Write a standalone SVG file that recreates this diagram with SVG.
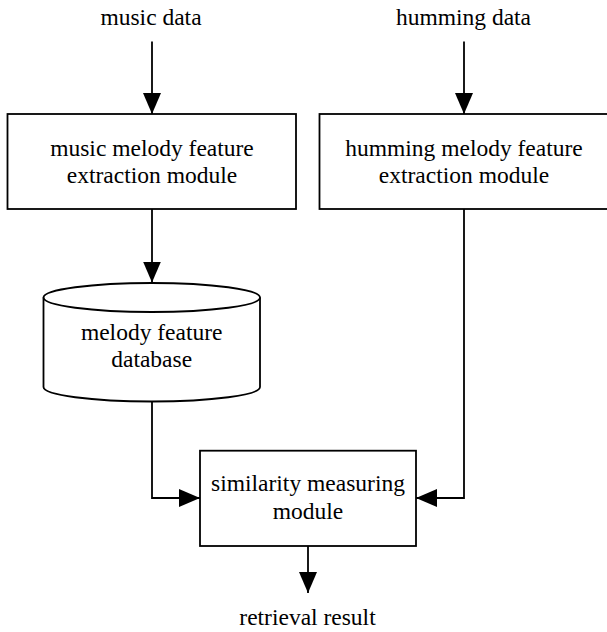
<svg xmlns="http://www.w3.org/2000/svg" width="607" height="632" viewBox="0 0 607 632">
<defs>
<marker id="ah" viewBox="0 0 21 18" refX="21" refY="9" markerWidth="21" markerHeight="18" markerUnits="userSpaceOnUse" orient="auto">
<path d="M0,0 L21,9 L0,18 Z" fill="#000"/>
</marker>
<style>
.t{font-family:"Liberation Serif","Times New Roman",serif;font-size:23.5px;fill:#000;text-anchor:middle}
.b{fill:#fff;stroke:#000;stroke-width:1.8}
.c{fill:none;stroke:#000;stroke-width:1.8}
</style>
</defs>
<rect width="607" height="632" fill="#fff"/>
<g id="connectors">
<path class="c" d="M152,41.5 V114" marker-end="url(#ah)"/>
<path class="c" d="M464,41.5 V114" marker-end="url(#ah)"/>
<path class="c" d="M152,209 V282.5" marker-end="url(#ah)"/>
<path class="c" d="M152,402 V498 H200" marker-end="url(#ah)"/>
<path class="c" d="M464,209 V498 H416" marker-end="url(#ah)"/>
<path class="c" d="M308,546 V593" marker-end="url(#ah)"/>
</g>
<g id="music-data"><text class="t" x="151" y="25">music data</text></g>
<g id="humming-data"><text class="t" x="463.5" y="25">humming data</text></g>
<g id="music-extract">
<rect class="b" x="7.5" y="114" width="288.5" height="95"/>
<text class="t" x="152" y="156">music melody feature</text>
<text class="t" x="152" y="183">extraction module</text>
</g>
<g id="humming-extract">
<rect class="b" x="319.5" y="114" width="289" height="95"/>
<text class="t" x="464" y="156">humming melody feature</text>
<text class="t" x="464" y="183">extraction module</text>
</g>
<g id="database">
<path class="b" d="M43.5,297.5 A108.25,14.5 0 0 1 260,297.5 V387 A108.25,14.5 0 0 1 43.5,387 Z"/>
<path class="c" d="M43.5,297.5 A108.25,14.5 0 0 0 260,297.5"/>
<text class="t" x="151.7" y="340">melody feature</text>
<text class="t" x="151.7" y="367">database</text>
</g>
<g id="similarity">
<rect class="b" x="200" y="450.7" width="216" height="95.3"/>
<text class="t" x="308" y="490.7">similarity measuring</text>
<text class="t" x="308" y="519">module</text>
</g>
<g id="retrieval-result"><text class="t" x="307.5" y="625">retrieval result</text></g>
</svg>
